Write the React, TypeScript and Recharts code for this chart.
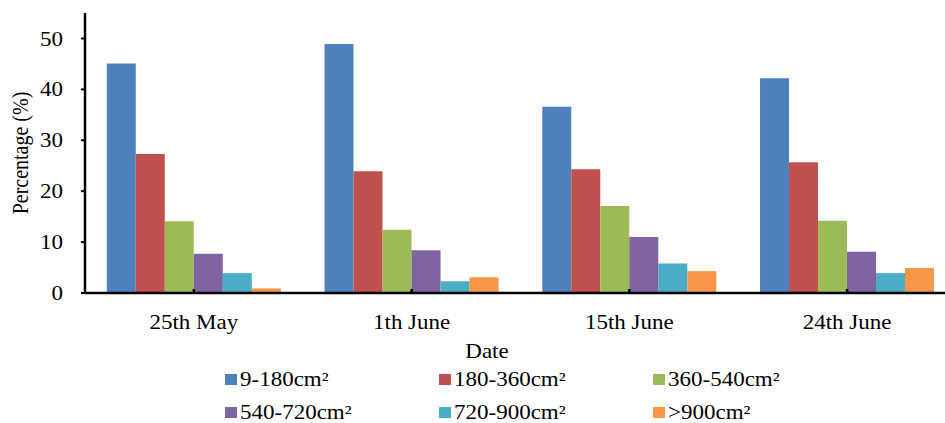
import { BarChart, Bar, XAxis, YAxis, Legend } from "recharts";

const dates = ["25th May", "1th June", "15th June", "24th June"];

const areaClasses = [
  "9-180cm²",
  "180-360cm²",
  "360-540cm²",
  "540-720cm²",
  "720-900cm²",
  ">900cm²",
];

const area9to180 = [45.1, 48.9, 36.6, 42.2];
const area180to360 = [27.3, 23.9, 24.3, 25.7];
const area360to540 = [14.1, 12.4, 17.1, 14.2];
const area540to720 = [7.7, 8.4, 11.0, 8.1];
const area720to900 = [3.9, 2.3, 5.8, 3.9];
const areaOver900 = [0.9, 3.1, 4.3, 4.9];

const yTicks = [0, 10, 20, 30, 40, 50];

const colors = ["#4F81BD", "#C0504D", "#9BBB59", "#8064A2", "#4BACC6", "#F79646"];

const seriesValues = [
  area9to180,
  area180to360,
  area360to540,
  area540to720,
  area720to900,
  areaOver900,
];

const data = dates.map((date, i) => {
  const row: Record<string, string | number> = { date };
  areaClasses.forEach((name, s) => {
    row[name] = seriesValues[s][i];
  });
  return row;
});

const FONT = '"Liberation Serif", "Times New Roman", serif';
const STRETCH = 1.15;
const INK = "#000";

function YTick({ x, y, payload }: any) {
  return (
    <g transform={`translate(${x},${y})`}>
      <text
        transform={`scale(${STRETCH},1)`}
        textAnchor="end"
        dy="0.355em"
        fontSize={20}
        fontFamily={FONT}
        fill={INK}
      >
        {payload.value}
      </text>
    </g>
  );
}

function XTick({ x, y, payload }: any) {
  return (
    <g transform={`translate(${x},${y})`}>
      <line x1={0} y1={0} x2={0} y2={-4} stroke="#000" strokeWidth={2.5} />
      <text
        transform={`scale(${STRETCH},1)`}
        textAnchor="middle"
        y={36}
        fontSize={20}
        fontFamily={FONT}
        fill={INK}
      >
        {payload.value}
      </text>
    </g>
  );
}

// keep legend entries in series order (3 columns x 2 rows)
function LegendGrid({ payload }: any) {
  const items = [...(payload || [])].sort(
    (a: any, b: any) => areaClasses.indexOf(a.value) - areaClasses.indexOf(b.value)
  );
  return (
    <div
      style={{
        height: 68,
        paddingTop: 8,
        boxSizing: "border-box",
        display: "grid",
        gridTemplateColumns: "214px 214px 214px",
        gridAutoRows: 33,
        marginLeft: 225,
        fontFamily: FONT,
        fontSize: 20,
        color: INK,
      }}
    >
      {items.map((entry: any) => (
        <div key={entry.value} style={{ display: "flex", alignItems: "center", height: 33 }}>
          <span
            style={{
              display: "inline-block",
              width: 12,
              height: 11,
              background: entry.color,
              marginRight: 3,
            }}
          />
          <span
            style={{
              display: "inline-block",
              whiteSpace: "nowrap",
              transform: `scaleX(${STRETCH})`,
              transformOrigin: "left center",
            }}
          >
            {entry.value}
          </span>
        </div>
      ))}
    </div>
  );
}

export default function App() {
  return (
    <div
      style={{
        position: "fixed",
        left: 0,
        top: 0,
        width: 945,
        height: 423,
        overflow: "hidden",
        background: "#fff",
      }}
    >
      <BarChart
        width={956}
        height={423}
        data={data}
        margin={{ top: 13, right: 0, bottom: 0, left: 0 }}
        barCategoryGap="10%"
        barGap={0}
      >
        <XAxis
          dataKey="date"
          height={62}
          tickSize={0}
          tickMargin={0}
          tickLine={false}
          axisLine={{ stroke: "#000", strokeWidth: 2.5 }}
          tick={<XTick />}
          interval={0}
          label={(props: any) => (
            <text
              x={487}
              y={props.viewBox.y + 65}
              textAnchor="middle"
              fontSize={20}
              fontFamily={FONT}
              fill={INK}
              transform={`translate(487,0) scale(${STRETCH},1) translate(-487,0)`}
            >
              Date
            </text>
          )}
        />
        <YAxis
          width={85}
          domain={[0, 55]}
          ticks={yTicks}
          allowDataOverflow
          tickSize={4}
          tickMargin={18}
          tickLine={{ stroke: "#000", strokeWidth: 2 }}
          axisLine={{ stroke: "#000", strokeWidth: 2.5 }}
          tick={<YTick />}
          label={(props: any) => {
            const cy = props.viewBox.y + props.viewBox.height / 2;
            return (
              <text
                transform={`translate(20,${cy}) scale(${STRETCH},1) rotate(-90)`}
                textAnchor="middle"
                dy="0.355em"
                fontSize={20}
                fontFamily={FONT}
                fill={INK}
              >
                Percentage (%)
              </text>
            );
          }}
        />
        <Legend verticalAlign="bottom" content={<LegendGrid />} />
        {areaClasses.map((name, i) => (
          <Bar key={name} dataKey={name} fill={colors[i]} isAnimationActive={false} />
        ))}
      </BarChart>
    </div>
  );
}
